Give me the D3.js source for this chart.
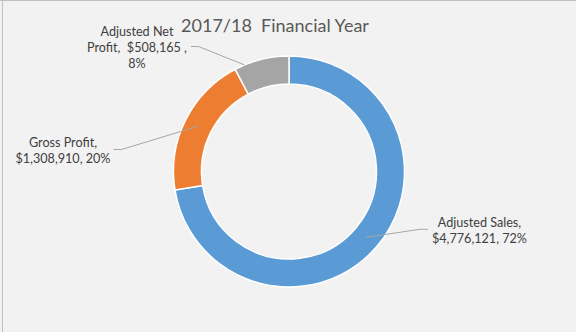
<!DOCTYPE html>
<html>
<head>
<meta charset="utf-8">
<script src="https://cdn.jsdelivr.net/npm/d3@7"></script>
<style>
  html, body { margin: 0; padding: 0; background: #f2f2f2; }
  svg { display: block; }
  text { font-family: Lato, "Open Sans", sans-serif; }
</style>
</head>
<body>
<svg id="chart" width="576" height="332"></svg>
<script>
// Financial year breakdown
const title = "2017/18  Financial Year";
const categories = ["Adjusted Sales", "Gross Profit", "Adjusted Net Profit"];
const values = [4776121, 1308910, 508165];
const colors = ["#5b9bd5", "#ed7d31", "#a5a5a5"];

const W = 576, H = 332;
const svg = d3.select("#chart");

// chart area background and frame
svg.append("rect").attr("width", W).attr("height", H).attr("fill", "#f2f2f2");
svg.append("line").attr("x1", 0).attr("x2", W).attr("y1", 0.5).attr("y2", 0.5)
  .attr("stroke", "#bfbfbf").attr("stroke-width", 1);
svg.append("line").attr("x1", 2.5).attr("x2", 2.5).attr("y1", 0).attr("y2", H)
  .attr("stroke", "#bfbfbf").attr("stroke-width", 1);

// title
svg.append("text")
  .attr("x", 275).attr("y", 31.5)
  .attr("text-anchor", "middle")
  .attr("font-size", 18)
  .attr("fill", "#595959")
  .style("white-space", "pre")
  .text(title);

// doughnut
const cx = 289, cy = 171.5;
const outerR = 115.5, innerR = 87.5;
const total = d3.sum(values);
const data = categories.map((name, i) => ({ name, value: values[i], color: colors[i] }));

const pie = d3.pie().sort(null).value(d => d.value);
const arcs = pie(data);
const arc = d3.arc().innerRadius(innerR).outerRadius(outerR);

const g = svg.append("g").attr("transform", `translate(${cx},${cy})`);
g.selectAll("path.slice")
  .data(arcs)
  .join("path")
  .attr("class", "slice")
  .attr("d", arc)
  .attr("fill", d => d.data.color)
  .attr("stroke", "#ffffff")
  .attr("stroke-width", 1.5)
  .attr("stroke-linejoin", "miter");

// data labels
const money = d3.format("$,");
const pct = d3.format(".0%");

const labelLines = arcs.map(a => {
  const v = money(a.data.value), p = pct(a.data.value / total);
  if (a.data.name === "Adjusted Net Profit") {
    return ["Adjusted Net", `Profit,  ${v} ,`, p];
  }
  return [`${a.data.name},`, `${v}, ${p}`];
});

// label placement and leader-line elbows
const labelLayout = [
  { x: 479.5, y: 226.7, elbow: [[428, 229.3], [420, 229.3]], toEdge: false },
  { x: 63, y: 146.7, elbow: [[113.5, 149.5], [121.5, 149.5]], toEdge: false },
  { x: 137, y: 35.7, elbow: [[191, 46.5], [198.5, 46.5]], toEdge: true }
];

const lineH = 16.3;
arcs.forEach((a, i) => {
  const L = labelLayout[i];
  const mid = (a.startAngle + a.endAngle) / 2;
  const r = L.toEdge ? outerR : (innerR + outerR) / 2;
  const end = [cx + r * Math.sin(mid), cy - r * Math.cos(mid)];
  let pts = L.elbow.concat([end]);
  if (L.toEdge) {
    // stop the leader where it meets the outer rim of the slice
    const p0 = L.elbow[L.elbow.length - 1];
    const c = [cx + ((innerR + outerR) / 2) * Math.sin(mid), cy - ((innerR + outerR) / 2) * Math.cos(mid)];
    const dx = c[0] - p0[0], dy = c[1] - p0[1];
    const fx = p0[0] - cx, fy = p0[1] - cy;
    const A = dx * dx + dy * dy, B = 2 * (fx * dx + fy * dy), C = fx * fx + fy * fy - outerR * outerR;
    const t = (-B - Math.sqrt(B * B - 4 * A * C)) / (2 * A);
    pts = L.elbow.concat([[p0[0] + t * dx, p0[1] + t * dy]]);
  }
  svg.append("path")
    .attr("d", d3.line()(pts))
    .attr("fill", "none")
    .attr("stroke", "#a6a6a6")
    .attr("stroke-width", 1);

  const t = svg.append("text")
    .attr("text-anchor", "middle")
    .attr("font-size", 12.6)
    .attr("fill", "#404040")
    .style("white-space", "pre");
  labelLines[i].forEach((ln, k) => {
    t.append("tspan").attr("x", L.x).attr("y", L.y + k * lineH).text(ln);
  });
});
</script>
</body>
</html>
